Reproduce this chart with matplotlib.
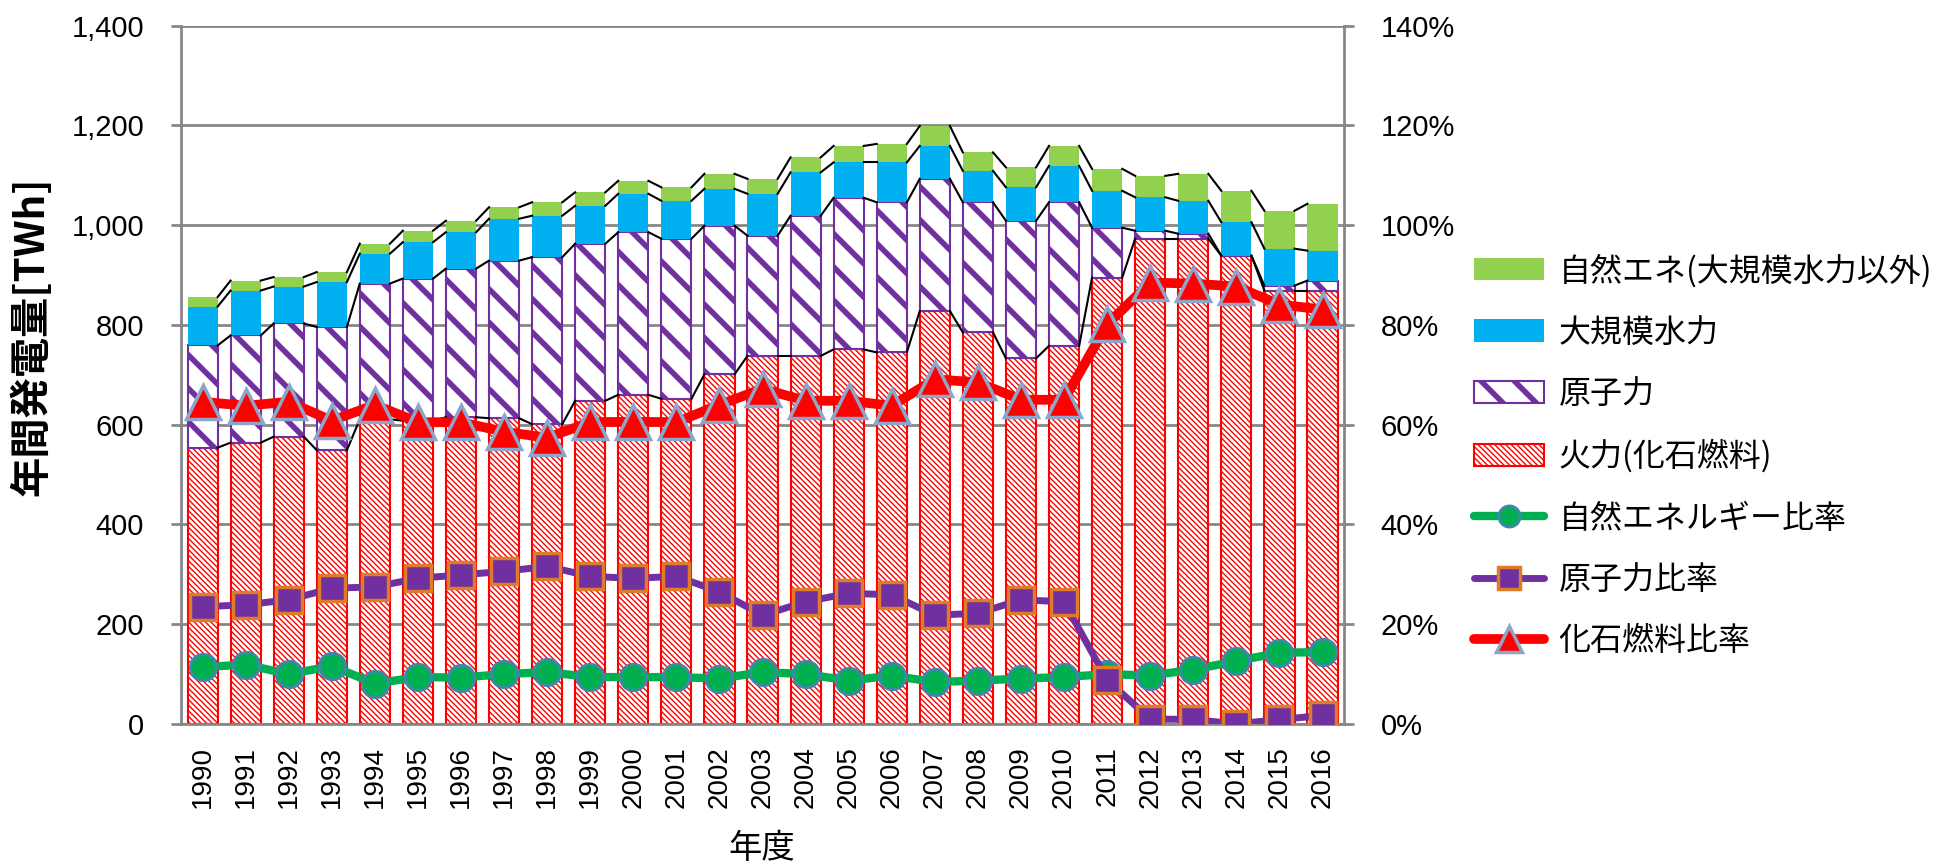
import matplotlib.pyplot as plt
from matplotlib.ticker import FuncFormatter, MultipleLocator
import numpy as np

years = [str(y) for y in range(1990, 2017)]

# generation by source [TWh] (stacked segments)
fossil = [554, 564, 576, 549, 611, 608, 615, 613, 601, 648, 660, 652, 701, 738,
          738, 751, 745, 828, 785, 733, 758, 895, 973, 973, 939, 869, 869]
nuclear = [205, 215, 227, 247, 272, 285, 298, 316, 335, 315, 326, 321, 298, 241,
           281, 304, 301, 265, 261, 276, 288, 100, 16, 10, 0, 10, 20]
hydro = [78, 90, 74, 90, 60, 73, 73, 84, 83, 76, 77, 76, 74, 84,
         87, 71, 80, 66, 63, 67, 73, 74, 67, 66, 67, 74, 60]
renew = [19, 20, 19, 20, 20, 23, 23, 23, 27, 27, 26, 27, 30, 30,
         30, 33, 37, 40, 37, 40, 40, 44, 43, 54, 63, 76, 94]

# shares [%]
renew_ratio = [11.4, 11.9, 10.0, 11.6, 8.1, 9.4, 9.3, 10.0, 10.4, 9.4, 9.4, 9.4, 9.1, 10.4,
               10.0, 8.7, 9.7, 8.4, 8.7, 9.1, 9.4, 10.0, 9.7, 10.9, 12.6, 14.3, 14.4]
nuclear_ratio = [23.5, 23.9, 24.9, 27.2, 27.5, 29.2, 29.9, 30.6, 31.6, 29.6, 29.2, 29.6, 26.5, 21.8,
                 24.5, 26.2, 25.9, 21.8, 22.2, 24.9, 24.5, 8.8, 1.0, 0.9, 0.0, 0.9, 1.7]
fossil_ratio = [64.6, 63.8, 64.6, 60.8, 64.0, 60.5, 60.5, 58.6, 57.4, 60.5, 60.6, 60.5, 64.0, 67.2,
                64.8, 64.8, 63.8, 69.1, 68.5, 65.0, 65.0, 80.1, 88.5, 88.3, 87.7, 84.1, 83.1]

labels = ["自然エネ(大規模水力以外)", "大規模水力", "原子力", "火力(化石燃料)",
          "自然エネルギー比率", "原子力比率", "化石燃料比率"]

plt.rcParams['font.family'] = ['Liberation Sans', 'Noto Sans CJK JP']
jp = ['Noto Sans CJK JP', 'DejaVu Sans']
grid_c = '#878787'

fig = plt.figure(figsize=(19.53, 8.63), dpi=100)
ax = fig.add_axes([0.0927, 0.1611, 0.5955, 0.8091])
x = np.arange(len(years))
w = 0.7

# stacked bars
b1 = ax.bar(x, fossil, w, color='white', edgecolor='#ff0000', hatch='\\\\\\\\\\\\',
            linewidth=1.5, zorder=2)
lvl1 = np.array(fossil)
b2 = ax.bar(x, nuclear, w, bottom=lvl1, color='white', edgecolor='#7030a0', hatch='\\',
            linewidth=1.5, zorder=2)
lvl2 = lvl1 + nuclear
b3 = ax.bar(x, hydro, w, bottom=lvl2, color='#00b0f0', linewidth=0, zorder=2)
lvl3 = lvl2 + hydro
b4 = ax.bar(x, renew, w, bottom=lvl3, color='#92d050', linewidth=0, zorder=2)
lvl4 = lvl3 + renew

for p in b1:
    if hasattr(p, 'set_hatch_linewidth'):
        p.set_hatch_linewidth(1.0)
for p in b2:
    if hasattr(p, 'set_hatch_linewidth'):
        p.set_hatch_linewidth(4.0)

# series lines between bars
for lvl in [lvl1, lvl2, lvl3, lvl4]:
    for i in range(len(x) - 1):
        ax.plot([x[i] + w / 2, x[i + 1] - w / 2], [lvl[i], lvl[i + 1]],
                color='black', lw=1.5, zorder=3)

ax.set_xlim(-0.5, len(years) - 0.5)
ax.set_ylim(0, 1400)
ax.yaxis.set_major_locator(MultipleLocator(200))
ax.yaxis.set_major_formatter(FuncFormatter(lambda v, p: f"{v:,.0f}"))
ax.set_xticks(x)
ax.set_xticklabels(years, rotation=90)
ax.yaxis.grid(True, color=grid_c, lw=2)
ax.set_axisbelow(True)
for s in ['top', 'right']:
    ax.spines[s].set_visible(False)
for s in ['left', 'bottom']:
    ax.spines[s].set_color(grid_c)
    ax.spines[s].set_linewidth(2)
ax.tick_params(axis='y', length=7.5, width=2, color=grid_c, pad=19, labelsize=21)
ax.tick_params(axis='x', length=0, pad=16, labelsize=20)

# ratio lines on right axis
ax2 = ax.twinx()
ax2.set_ylim(0, 1.4)
ax2.yaxis.set_major_locator(MultipleLocator(0.2))
ax2.yaxis.set_major_formatter(FuncFormatter(lambda v, p: f"{v * 100:.0f}%"))
for s in ['top', 'left', 'bottom']:
    ax2.spines[s].set_visible(False)
ax2.spines['right'].set_color(grid_c)
ax2.spines['right'].set_linewidth(2)
ax2.tick_params(axis='y', length=7.5, width=2, color=grid_c, pad=19, labelsize=21)

l1, = ax2.plot(x, np.array(renew_ratio) / 100, color='#00b050', lw=6, marker='o', ms=19,
               mfc='#00b050', mec='#3f86b0', mew=2, solid_capstyle='round')
l2, = ax2.plot(x, np.array(nuclear_ratio) / 100, color='#7030a0', lw=5, marker='s', ms=19,
               mfc='#7030a0', mec='#e07b2a', mew=2.5, solid_capstyle='round')
l3, = ax2.plot(x, np.array(fossil_ratio) / 100, color='#ff0000', lw=7, marker='^', ms=24,
               mfc='#ff0000', mec='#8ea4c8', mew=2.5, solid_capstyle='round')

handles = [b4, b3, b2, b1, l1, l2, l3]
leg = fig.legend(handles, labels, loc='upper left', bbox_to_anchor=(1474 / 1953, 1 - 254 / 863),
                 frameon=False, prop={'family': jp, 'size': 23}, handlelength=2.2,
                 handleheight=0.7, handletextpad=0.45, labelspacing=0.92, markerscale=0.8,
                 borderpad=0, borderaxespad=0, numpoints=1)
for p, lw in zip(leg.get_patches(), [0, 0, 4.0, 1.0]):
    if hasattr(p, 'set_hatch_linewidth') and lw:
        p.set_hatch_linewidth(lw)

fig.text(32 / 1953, 1 - 336 / 863, "年間発電量[TWh]", rotation=90, ha='center', va='center',
         fontsize=29, fontweight='bold', family=jp)
fig.text(762 / 1953, 1 - 831 / 863, "年度", ha='center', va='top', fontsize=24, family=jp)

fig.savefig('out.png', dpi=100)
